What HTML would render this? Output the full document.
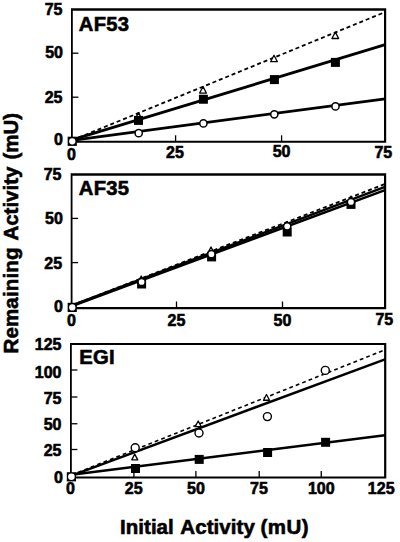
<!DOCTYPE html>
<html><head><meta charset="utf-8"><style>
html,body{margin:0;padding:0;background:#fff;width:400px;height:542px;overflow:hidden}
svg{display:block}
text{font-family:"Liberation Sans", sans-serif;font-weight:bold;fill:#000;stroke:#000;stroke-width:0.6px}
</style></head><body>
<svg width="400" height="542" viewBox="0 0 400 542">
<line x1="72" y1="140.3" x2="385.2" y2="12.0" stroke="#000" stroke-width="1.8" stroke-dasharray="4.0 2.9"/>
<line x1="72" y1="139.85" x2="385.2" y2="44.65" stroke="#000" stroke-width="2.8"/>
<line x1="72" y1="140.3" x2="385.2" y2="98.8" stroke="#000" stroke-width="2.8"/>
<path d="M138.50 112.65 L141.85 119.05 L135.15 119.05 Z" fill="#fff" stroke="#000" stroke-width="1.3" stroke-linejoin="round"/>
<path d="M203.00 86.65 L206.35 93.05 L199.65 93.05 Z" fill="#fff" stroke="#000" stroke-width="1.3" stroke-linejoin="round"/>
<path d="M274.00 55.30 L277.35 61.70 L270.65 61.70 Z" fill="#fff" stroke="#000" stroke-width="1.3" stroke-linejoin="round"/>
<path d="M335.30 32.10 L338.65 38.50 L331.95 38.50 Z" fill="#fff" stroke="#000" stroke-width="1.3" stroke-linejoin="round"/>
<rect x="134.00" y="115.90" width="9" height="9" fill="#000"/>
<rect x="198.90" y="94.75" width="9" height="9" fill="#000"/>
<rect x="269.90" y="75.10" width="9" height="9" fill="#000"/>
<rect x="330.90" y="57.90" width="9" height="9" fill="#000"/>
<circle cx="138.7" cy="133.2" r="3.6" fill="#fff" stroke="#000" stroke-width="1.5"/>
<circle cx="203.4" cy="123.4" r="3.6" fill="#fff" stroke="#000" stroke-width="1.5"/>
<circle cx="274.3" cy="114.3" r="3.6" fill="#fff" stroke="#000" stroke-width="1.5"/>
<circle cx="335.5" cy="106.4" r="3.6" fill="#fff" stroke="#000" stroke-width="1.5"/>
<path d="M71.00 8.30H386.20V142.85H71.00Z M72.80 10.70V140.75H384.00V10.70Z" fill="#000" fill-rule="evenodd"/>
<rect x="67.65" y="136.70" width="9.2" height="9.2" fill="#000"/>
<circle cx="72.25" cy="141.3" r="3.15" fill="#fff"/>
<line x1="175.6" y1="141.8" x2="175.6" y2="135.3" stroke="#000" stroke-width="1.3"/>
<line x1="281.6" y1="141.8" x2="281.6" y2="135.3" stroke="#000" stroke-width="1.3"/>
<line x1="71.9" y1="97.2" x2="78.4" y2="97.2" stroke="#000" stroke-width="1.3"/>
<line x1="71.9" y1="53.2" x2="78.4" y2="53.2" stroke="#000" stroke-width="1.3"/>
<line x1="72" y1="305.2" x2="385" y2="184.0" stroke="#000" stroke-width="1.8" stroke-dasharray="4.0 2.9"/>
<line x1="72" y1="305.5" x2="385" y2="186.9" stroke="#000" stroke-width="2.5"/>
<line x1="72" y1="306.0" x2="385" y2="190.2" stroke="#000" stroke-width="2.5"/>
<path d="M141.20 276.05 L144.55 282.45 L137.85 282.45 Z" fill="#fff" stroke="#000" stroke-width="1.3" stroke-linejoin="round"/>
<path d="M211.00 246.95 L214.35 253.35 L207.65 253.35 Z" fill="#fff" stroke="#000" stroke-width="1.3" stroke-linejoin="round"/>
<path d="M286.80 221.80 L290.15 228.20 L283.45 228.20 Z" fill="#fff" stroke="#000" stroke-width="1.3" stroke-linejoin="round"/>
<path d="M351.00 196.10 L354.35 202.50 L347.65 202.50 Z" fill="#fff" stroke="#000" stroke-width="1.3" stroke-linejoin="round"/>
<rect x="137.10" y="279.50" width="9" height="9" fill="#000"/>
<rect x="207.10" y="252.40" width="9" height="9" fill="#000"/>
<rect x="282.70" y="227.50" width="9" height="9" fill="#000"/>
<rect x="346.50" y="199.90" width="9" height="9" fill="#000"/>
<circle cx="141.6" cy="282" r="3.6" fill="#fff" stroke="#000" stroke-width="1.5"/>
<circle cx="211.4" cy="254.2" r="3.6" fill="#fff" stroke="#000" stroke-width="1.5"/>
<circle cx="287.2" cy="226.3" r="3.6" fill="#fff" stroke="#000" stroke-width="1.5"/>
<circle cx="351" cy="202" r="3.6" fill="#fff" stroke="#000" stroke-width="1.5"/>
<path d="M70.70 173.30H386.20V309.20H70.70Z M72.50 175.70V307.00H384.00V175.70Z" fill="#000" fill-rule="evenodd"/>
<rect x="67.65" y="302.80" width="9.2" height="9.2" fill="#000"/>
<circle cx="72.25" cy="307.4" r="3.15" fill="#fff"/>
<line x1="176.5" y1="308" x2="176.5" y2="301.5" stroke="#000" stroke-width="1.3"/>
<line x1="282.5" y1="308" x2="282.5" y2="301.5" stroke="#000" stroke-width="1.3"/>
<line x1="71.6" y1="262.6" x2="78.1" y2="262.6" stroke="#000" stroke-width="1.3"/>
<line x1="71.6" y1="218.4" x2="78.1" y2="218.4" stroke="#000" stroke-width="1.3"/>
<line x1="71.5" y1="475.0" x2="385" y2="349.8" stroke="#000" stroke-width="1.6" stroke-dasharray="3.8 3.1"/>
<line x1="71.5" y1="475.6" x2="385" y2="359.3" stroke="#000" stroke-width="2.45"/>
<line x1="71.5" y1="474.8" x2="385" y2="435.3" stroke="#000" stroke-width="2.45"/>
<path d="M134.75 454.15 L137.75 459.85 L131.75 459.85 Z" fill="#fff" stroke="#000" stroke-width="1.3" stroke-linejoin="round"/>
<path d="M198.20 420.95 L201.20 426.65 L195.20 426.65 Z" fill="#fff" stroke="#000" stroke-width="1.3" stroke-linejoin="round"/>
<path d="M266.50 394.55 L269.50 400.25 L263.50 400.25 Z" fill="#fff" stroke="#000" stroke-width="1.3" stroke-linejoin="round"/>
<rect x="131.00" y="464.00" width="9" height="9" fill="#000"/>
<rect x="194.70" y="454.90" width="9" height="9" fill="#000"/>
<rect x="263.10" y="448.00" width="9" height="9" fill="#000"/>
<rect x="321.10" y="437.80" width="9" height="9" fill="#000"/>
<circle cx="135.2" cy="447.8" r="4.0" fill="#fff" stroke="#000" stroke-width="1.4"/>
<circle cx="199" cy="433" r="4.0" fill="#fff" stroke="#000" stroke-width="1.4"/>
<circle cx="267.4" cy="416.6" r="4.0" fill="#fff" stroke="#000" stroke-width="1.4"/>
<circle cx="325.3" cy="370.4" r="4.0" fill="#fff" stroke="#000" stroke-width="1.4"/>
<path d="M70.00 342.90H386.30V478.60H70.00Z M71.80 345.10V476.60H384.10V345.10Z" fill="#000" fill-rule="evenodd"/>
<rect x="66.80" y="472.20" width="9.2" height="9.2" fill="#000"/>
<circle cx="71.4" cy="476.8" r="3.3" fill="#fff"/>
<line x1="133.9" y1="477.6" x2="133.9" y2="471.1" stroke="#000" stroke-width="1.3"/>
<line x1="195.9" y1="477.6" x2="195.9" y2="471.1" stroke="#000" stroke-width="1.3"/>
<line x1="259.2" y1="477.6" x2="259.2" y2="471.1" stroke="#000" stroke-width="1.3"/>
<line x1="321.25" y1="477.6" x2="321.25" y2="471.1" stroke="#000" stroke-width="1.3"/>
<line x1="70.9" y1="449.5" x2="77.4" y2="449.5" stroke="#000" stroke-width="1.3"/>
<line x1="70.9" y1="423.75" x2="77.4" y2="423.75" stroke="#000" stroke-width="1.3"/>
<line x1="70.9" y1="397" x2="77.4" y2="397" stroke="#000" stroke-width="1.3"/>
<line x1="70.9" y1="370" x2="77.4" y2="370" stroke="#000" stroke-width="1.3"/>
<text x="62.5" y="15" font-size="16" text-anchor="end" >75</text>
<text x="63" y="57.8" font-size="16" text-anchor="end" >50</text>
<text x="62.5" y="103.2" font-size="16" text-anchor="end" >25</text>
<text x="63" y="144.5" font-size="16" text-anchor="end" >0</text>
<text x="71.5" y="159.5" font-size="16" text-anchor="middle" >0</text>
<text x="175" y="158" font-size="16" text-anchor="middle" >25</text>
<text x="281.6" y="156.5" font-size="16" text-anchor="middle" >50</text>
<text x="383.3" y="157.5" font-size="16" text-anchor="middle" >75</text>
<text x="61.5" y="179.5" font-size="16" text-anchor="end" >75</text>
<text x="62.9" y="224.3" font-size="16" text-anchor="end" >50</text>
<text x="62.1" y="268.6" font-size="16" text-anchor="end" >25</text>
<text x="63" y="311.5" font-size="16" text-anchor="end" >0</text>
<text x="71.5" y="325.5" font-size="16" text-anchor="middle" >0</text>
<text x="176.5" y="325.8" font-size="16" text-anchor="middle" >25</text>
<text x="282.5" y="325.8" font-size="16" text-anchor="middle" >50</text>
<text x="384.3" y="325.2" font-size="16" text-anchor="middle" >75</text>
<text x="61.5" y="350" font-size="16" text-anchor="end" >125</text>
<text x="61.5" y="377.5" font-size="16" text-anchor="end" >100</text>
<text x="61.5" y="403.7" font-size="16" text-anchor="end" >75</text>
<text x="61.5" y="430" font-size="16" text-anchor="end" >50</text>
<text x="61.5" y="456" font-size="16" text-anchor="end" >25</text>
<text x="63" y="482.8" font-size="16" text-anchor="end" >0</text>
<text x="70.5" y="494" font-size="16" text-anchor="middle" >0</text>
<text x="133.7" y="494" font-size="16" text-anchor="middle" >25</text>
<text x="195.9" y="494" font-size="16" text-anchor="middle" >50</text>
<text x="259" y="494" font-size="16" text-anchor="middle" >75</text>
<text x="321.25" y="494" font-size="16" text-anchor="middle" >100</text>
<text x="381.2" y="494" font-size="16" text-anchor="middle" >125</text>
<text x="78.8" y="31" font-size="20.2" text-anchor="start" letter-spacing="0.3">AF53</text>
<text x="78.8" y="195" font-size="20.2" text-anchor="start" letter-spacing="0.3">AF35</text>
<text x="79.2" y="363.9" font-size="20.3" text-anchor="start" letter-spacing="0.2">EGI</text>
<text x="120.00" y="533.6" font-size="20.5" textLength="53.75" lengthAdjust="spacing">Initial</text>
<text x="180.30" y="533.6" font-size="20.5" textLength="74.60" lengthAdjust="spacing">Activity</text>
<text x="260.40" y="533.6" font-size="20.5" textLength="48.10" lengthAdjust="spacing">(mU)</text>
<text transform="translate(18.2,353.50) rotate(-90)" x="0" y="0" font-size="20.5" textLength="106.00" lengthAdjust="spacing">Remaining</text>
<text transform="translate(18.2,240.55) rotate(-90)" x="0" y="0" font-size="20.5" textLength="73.95" lengthAdjust="spacing">Activity</text>
<text transform="translate(18.2,159.60) rotate(-90)" x="0" y="0" font-size="20.5" textLength="46.70" lengthAdjust="spacing">(mU)</text>
</svg>
</body></html>
